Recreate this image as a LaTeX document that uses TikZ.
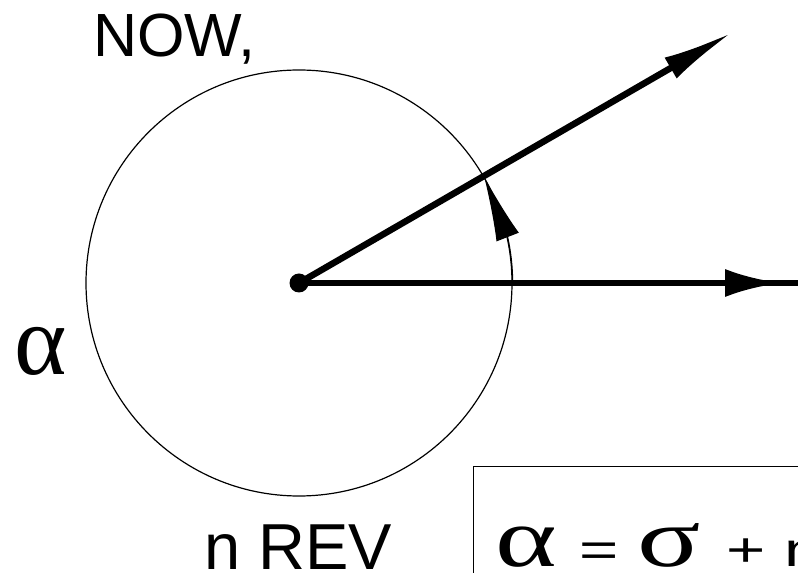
\documentclass[tikz,border=0pt]{standalone}
\usepackage{fontspec}
\setmainfont{Liberation Sans}
\newfontfamily\greekfont{Liberation Serif}
\usepackage{graphicx}
\usetikzlibrary{arrows.meta,bending}

\begin{document}
\begin{tikzpicture}[x=1pt,y=1pt,
    vec/.style={line width=6.5pt},
    thin line/.style={line width=1.2pt},
    txt/.style={inner sep=0pt, anchor=base west},
  ]
    \useasboundingbox (0,0) rectangle (798,573);
    \clip (0,0) rectangle (798,573);
    % centre and circle
    \coordinate (O) at (299,290);
    \node[circle, draw, thin line, minimum size=426pt, inner sep=0pt] (orbit) at (O) {};
    \node[circle, fill, minimum size=19pt, inner sep=0pt] (hub) at (O) {};
    % vectors
    \coordinate (ntip) at (733,541);
    \coordinate (htip) at (781,290);
    \coordinate (hend) at (815,290);
    \draw[vec, -{Latex[length=72pt,width=24pt]}] (hub.center) -- (ntip);
    \draw[vec] (hub.center) -- (hend);
    \draw[vec, -{Latex[length=56pt,width=28pt]}] (hub.center) -- (htip);
    % angle arrow on the circle
    \draw[thin line, -{Latex[length=65pt,width=24pt,flex]}] (orbit.east) arc[start angle=0, end angle=30, radius=213];
    % labels
    \node[txt, font=\fontsize{61}{61}\selectfont] (now) at (93,516) {NOW,};
    \node[txt, font=\greekfont\fontsize{100}{100}\selectfont] (alpha) at (14,198) {α};
    \node[txt, font=\fontsize{65}{65}\selectfont] (rev) at (204,3) {n REV};
    % equation box
    \node[draw, line width=1.3pt, anchor=north west, minimum width=400pt, minimum height=150pt] (eqbox) at (473,107) {};
    \node[txt, font=\fontsize{48}{48}\selectfont] (eq) at (495,6)
      {\scalebox{1.4}[1]{{\greekfont\fontsize{84}{84}\selectfont α}\hspace{3pt} = {\greekfont\fontsize{84}{84}\selectfont σ}\hspace{5pt} + n}};
\end{tikzpicture}
\end{document}
